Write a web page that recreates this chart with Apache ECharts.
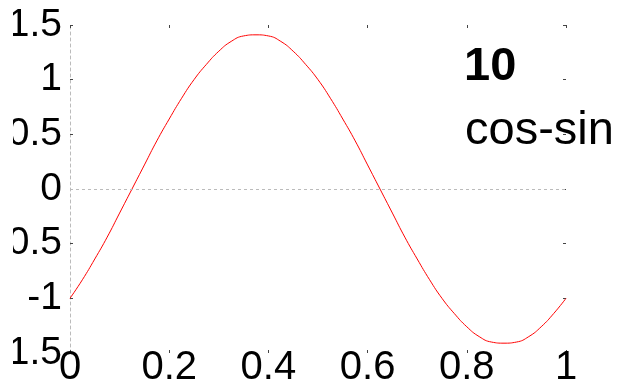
<!DOCTYPE html>
<html>
<head>
<meta charset="utf-8">
<script src="https://cdn.jsdelivr.net/npm/echarts@6/dist/echarts.min.js"></script>
<style>
html,body{margin:0;padding:0;background:#fff;}
#chart{width:624px;height:387px;}
</style>
</head>
<body>
<div id="chart"></div>
<script>
// Values
const xValues = [0, 0.025, 0.05, 0.075, 0.1, 0.125, 0.15, 0.175, 0.2, 0.225, 0.25, 0.275, 0.3, 0.325, 0.35, 0.375, 0.4, 0.425, 0.45, 0.475, 0.5, 0.525, 0.55, 0.575, 0.6, 0.625, 0.65, 0.675, 0.7, 0.725, 0.75, 0.775, 0.8, 0.825, 0.85, 0.875, 0.9, 0.925, 0.95, 0.975, 1];
const yValues = [-1.00, -0.83, -0.64, -0.44, -0.22, 0.00, 0.22, 0.44, 0.64, 0.83, 1.00, 1.14, 1.26, 1.35, 1.40, 1.41, 1.40, 1.35, 1.26, 1.14, 1.00, 0.83, 0.64, 0.44, 0.22, 0.00, -0.22, -0.44, -0.64, -0.83, -1.00, -1.14, -1.26, -1.35, -1.40, -1.41, -1.40, -1.35, -1.26, -1.14, -1.00];
const xTicks = [0, 0.2, 0.4, 0.6, 0.8, 1];
const yTicks = [-1.5, -1, -0.5, 0, 0.5, 1, 1.5];
const titleNumber = '10';
const titleName = 'cos-sin';

const FONT = 'Liberation Sans, Arial, sans-serif';
const chart = echarts.init(document.getElementById('chart'), null, {renderer: 'canvas'});
const points = xValues.map((x, i) => [x, yValues[i]]);
const tickStyle = {show: true, inside: true, length: 3, lineStyle: {color: '#444', width: 1}};

chart.setOption({
  animation: false,
  grid: {left: 70, right: 58, top: 25, bottom: 34, containLabel: false, outerBoundsMode: 'none'},
  xAxis: [{
    type: 'value', min: xTicks[0], max: xTicks[xTicks.length - 1], interval: 0.2,
    position: 'bottom',
    axisLine: {show: false, onZero: false},
    axisTick: tickStyle,
    splitLine: {show: false},
    axisLabel: {fontSize: 40, color: '#000', fontFamily: FONT, margin: -5, showMinLabel: true, showMaxLabel: true}
  }, {
    type: 'value', min: xTicks[0], max: xTicks[xTicks.length - 1], interval: 0.2,
    position: 'top',
    axisLine: {show: false, onZero: false},
    axisTick: tickStyle,
    splitLine: {show: false},
    axisLabel: {show: false}
  }],
  yAxis: [{
    type: 'value', min: yTicks[0], max: yTicks[yTicks.length - 1], interval: 0.5,
    position: 'left',
    axisLine: {show: true, onZero: false, lineStyle: {color: '#bbb', type: [3, 3], width: 1}},
    axisTick: tickStyle,
    splitLine: {show: false},
    axisLabel: {fontSize: 39, color: '#000', fontFamily: FONT, margin: 8, showMinLabel: true, showMaxLabel: true}
  }, {
    type: 'value', min: yTicks[0], max: yTicks[yTicks.length - 1], interval: 0.5,
    position: 'right',
    axisLine: {show: false, onZero: false},
    axisTick: tickStyle,
    splitLine: {show: false},
    axisLabel: {show: false}
  }],
  series: [{
    type: 'line',
    data: points,
    xAxisIndex: 0, yAxisIndex: 0,
    smooth: true,
    showSymbol: false,
    lineStyle: {color: '#ff0000', width: 1},
    markLine: {
      silent: true, symbol: 'none', label: {show: false},
      lineStyle: {color: '#bbb', type: [3, 3], width: 1},
      data: [{yAxis: 0}]
    }
  }],
  graphic: [{
    type: 'rect', left: 0, top: 0, z: 100,
    shape: {width: 13, height: 387},
    style: {fill: '#fff'}
  }, {
    type: 'text', left: 464, top: 44,
    style: {text: titleNumber, font: 'bold 47px ' + FONT, fill: '#000'}
  }, {
    type: 'text', left: 465, top: 108,
    style: {text: titleName, font: '47px ' + FONT, fill: '#000'}
  }]
});
</script>
</body>
</html>
